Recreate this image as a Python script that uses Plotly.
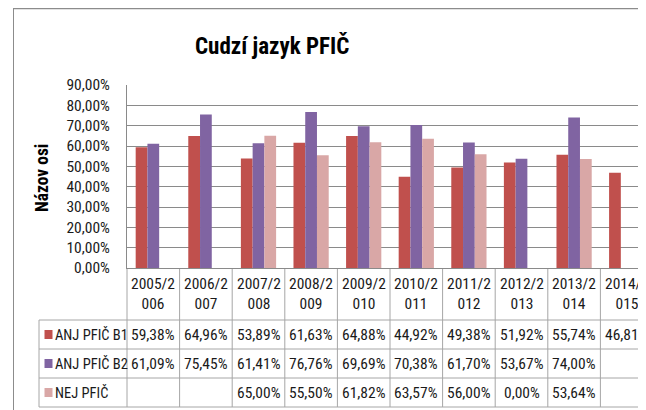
import plotly.graph_objects as go

# ---- data ----
categories = ["2005/2006", "2006/2007", "2007/2008", "2008/2009", "2009/2010",
              "2010/2011", "2011/2012", "2012/2013", "2013/2014", "2014/2015"]
series_names = ["ANJ PFIČ B1", "ANJ PFIČ B2", "NEJ PFIČ"]
anj_b1 = [59.38, 64.96, 53.89, 61.63, 64.88, 44.92, 49.38, 51.92, 55.74, 46.81]
anj_b2 = [61.09, 75.45, 61.41, 76.76, 69.69, 70.38, 61.70, 53.67, 74.00, None]
nej = [None, None, 65.00, 55.50, 61.82, 63.57, 56.00, 0.00, 53.64, None]
y_ticks = [0, 10, 20, 30, 40, 50, 60, 70, 80, 90]
colors = ["#C0504D", "#8064A2", "#D9A7A6"]

# page is offset by the default 8px body margin
OFF = 8
W, H = 646 - OFF, 410 - OFF
FONT = "Roboto Condensed, DejaVu Sans Condensed, Roboto, sans-serif"
TXT = "#1a1a1a"
GRID = "#8a8a8a"
TBL = "#a6a6a6"


def px(x):
    return (x - OFF) / W


def py(y):
    return 1 - (y - OFF) / H


plot_left, plot_top, plot_bottom = 127, 85, 268
cat_w = 52.6
n = len(categories)
x_hi = -0.5 + (646 - plot_left) / cat_w

fig = go.Figure()
for name, vals, col in zip(series_names, [anj_b1, anj_b2, nej], colors):
    fig.add_trace(go.Bar(
        x=list(range(n)), y=vals, name=name, marker_color=col,
        marker_line_width=0, showlegend=False))

fig.update_layout(
    width=W, height=H, margin=dict(l=0, r=0, t=0, b=0, autoexpand=False),
    paper_bgcolor="white", plot_bgcolor="white",
    barmode="group", bargap=0.33, bargroupgap=0,
    font=dict(family=FONT, color=TXT),
    xaxis=dict(domain=[px(plot_left), 1], range=[-0.5, x_hi], automargin=False,
               showticklabels=False, showgrid=False, zeroline=False,
               showline=True, linecolor=GRID, linewidth=1, ticks=""),
    yaxis=dict(domain=[py(plot_bottom), py(plot_top)], range=[0, 90], automargin=False,
               tickvals=y_ticks, ticktext=[f"{v},00%" for v in y_ticks],
               showgrid=True, gridcolor=GRID, gridwidth=1, zeroline=False,
               showline=True, linecolor=GRID, linewidth=1,
               ticks="", ticklabelstandoff=13,
               tickfont=dict(family=FONT, size=15.5, color=TXT)),
)

ann = []
shapes = []
# title
ann.append(dict(text="<b>Cudzí jazyk PFIČ</b>", x=px(272), y=py(46),
                xref="paper", yref="paper", showarrow=False,
                xanchor="center", yanchor="middle",
                font=dict(family=FONT, size=23, color="#000")))
# axis title
ann.append(dict(text="<b>Názov osi</b>", x=px(42), y=py(178),
                xref="paper", yref="paper", showarrow=False, textangle=-90,
                xanchor="center", yanchor="middle",
                font=dict(family=FONT, size=17.5, color="#000")))

# table geometry
row_tops = [269, 320, 349, 378, 407]
leg_left = 39
CELL = 15.5

# header labels
for i, c in enumerate(categories):
    ann.append(dict(text=c[:6] + "<br>" + c[6:], x=i, y=py(294),
                    xref="x", yref="paper", showarrow=False,
                    yanchor="middle", xanchor="center",
                    font=dict(family=FONT, size=CELL, color=TXT)))


def fmt(v):
    return "" if v is None else (f"{v:.2f}".replace(".", ",") + "%")


for r, (name, vals, col) in enumerate(zip(series_names, [anj_b1, anj_b2, nej], colors)):
    yc = (row_tops[r + 1] + row_tops[r + 2]) / 2
    for i, v in enumerate(vals):
        if v is None:
            continue
        ann.append(dict(text=fmt(v), x=i, y=py(yc), xref="x", yref="paper",
                        showarrow=False, xanchor="center", yanchor="middle",
                        font=dict(family=FONT, size=CELL, color=TXT)))
    ann.append(dict(text=name, x=px(53), y=py(yc), xref="paper", yref="paper",
                    showarrow=False, xanchor="left", yanchor="middle",
                    font=dict(family=FONT, size=14.5, color=TXT)))
    shapes.append(dict(type="rect", xref="paper", yref="paper",
                       x0=px(44.5), x1=px(52.5), y0=py(yc - 4.5), y1=py(yc + 4.5),
                       fillcolor=col, line=dict(width=0)))

# horizontal table lines
for yv in row_tops[1:]:
    shapes.append(dict(type="line", xref="paper", yref="paper",
                       x0=px(leg_left), x1=1, y0=py(yv), y1=py(yv),
                       line=dict(color=TBL, width=1)))
# vertical table lines
shapes.append(dict(type="line", xref="paper", yref="paper",
                   x0=px(leg_left), x1=px(leg_left), y0=py(row_tops[1]), y1=py(row_tops[-1]),
                   line=dict(color=TBL, width=1)))
shapes.append(dict(type="line", xref="paper", yref="paper",
                   x0=px(plot_left), x1=px(plot_left), y0=py(row_tops[0]), y1=py(row_tops[-1]),
                   line=dict(color=TBL, width=1)))
for i in range(n):
    shapes.append(dict(type="line", xref="x", yref="paper",
                       x0=i + 0.5, x1=i + 0.5, y0=py(row_tops[0]), y1=py(row_tops[-1]),
                       line=dict(color=TBL, width=1)))

# chart frame
shapes.append(dict(type="line", xref="paper", yref="paper",
                   x0=px(13.5), x1=px(13.5), y0=py(8), y1=0,
                   line=dict(color="#8c8c8c", width=1)))
shapes.append(dict(type="line", xref="paper", yref="paper",
                   x0=px(13.5), x1=px(645), y0=py(8.5), y1=py(8.5),
                   line=dict(color="#8c8c8c", width=1.5)))

fig.update_layout(annotations=ann, shapes=shapes)
fig.write_html("out.html")
